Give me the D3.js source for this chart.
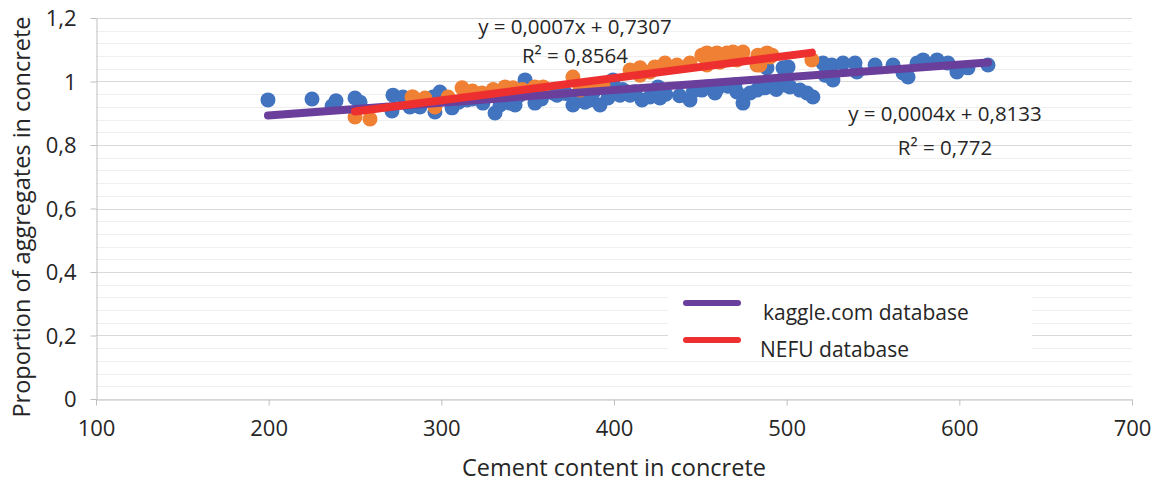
<!DOCTYPE html>
<html>
<head>
<meta charset="utf-8">
<script src="https://cdn.jsdelivr.net/npm/d3@7"></script>
<style>
  body { margin: 0; background: #ffffff; }
  text { font-family: "Open Sans", "Noto Sans", sans-serif; fill: #262626; }
</style>
</head>
<body>
<svg id="chart" width="1158" height="483"></svg>
<script>
// kaggle.com database: cement content vs. aggregate proportion
const kaggleCement = [
  199.6, 225.1, 236.7, 239.0, 250.0, 252.9, 272.0, 271.4, 279.5, 281.8,
  277.8, 287.6, 295.2, 299.2, 296.3, 306.2, 310.0, 314.9, 318.0, 320.7,
  324.1, 329.9, 331.1, 334.0, 339.8, 342.7, 345.0, 348.5, 352.5, 354.2,
  358.0, 364.7, 367.0, 372.0, 376.2, 380.0, 383.2, 386.1, 388.0, 391.9,
  396.5, 399.4, 403.5, 405.0, 409.3, 412.0, 416.2, 420.8, 425.5, 426.6,
  430.0, 438.0, 444.0, 446.0, 450.9, 453.8, 458.5, 460.0, 466.0, 470.0,
  471.2, 474.7, 478.8, 482.8, 485.0, 487.4, 488.6, 491.5, 494.0, 497.9,
  499.0, 500.8, 501.9, 507.7, 511.8, 515.2, 521.0, 522.2, 526.2, 526.8,
  532.6, 539.6, 540.7, 551.2, 561.6, 567.4, 570.3, 575.5, 579.0, 587.1,
  593.4, 598.6, 605.0, 616.6
];
const kaggleAggregate = [
  0.942, 0.945, 0.923, 0.939, 0.948, 0.935, 0.957, 0.907, 0.939, 0.920,
  0.951, 0.920, 0.951, 0.967, 0.904, 0.917, 0.935, 0.942, 0.945, 0.951,
  0.932, 0.964, 0.901, 0.926, 0.932, 0.926, 0.955, 1.005, 0.964, 0.932,
  0.945, 0.964, 0.957, 0.962, 0.926, 0.950, 0.935, 0.942, 0.965, 0.926,
  0.948, 1.005, 0.957, 0.975, 0.957, 0.968, 0.942, 0.951, 0.983, 0.948,
  0.960, 0.955, 0.942, 0.970, 0.973, 0.983, 0.964, 0.978, 0.985, 0.990,
  0.967, 0.932, 0.964, 0.973, 0.990, 0.980, 1.043, 0.995, 0.975, 1.043,
  0.989, 1.046, 0.983, 0.973, 0.964, 0.951, 1.058, 1.020, 1.052, 1.005,
  1.058, 1.058, 1.030, 1.052, 1.052, 1.027, 1.014, 1.058, 1.068, 1.068,
  1.058, 1.030, 1.043, 1.052
];

// NEFU database
const nefuCement = [
  250.0, 258.7, 283.0, 283.6, 290.5, 296.3, 303.9, 312.0, 318.0, 323.5,
  330.0, 336.9, 341.5, 347.0, 354.2, 358.9, 376.2, 380.3, 386.1, 393.6,
  409.3, 415.1, 415.1, 420.8, 423.7, 429.5, 436.5, 444.0, 450.9, 453.8,
  453.8, 455.6, 459.6, 461.4, 465.4, 468.9, 471.2, 474.7, 482.8, 483.4,
  484.5, 488.6, 490.3, 491.5, 514.6
];
const nefuAggregate = [
  0.888, 0.882, 0.951, 0.951, 0.948, 0.920, 0.951, 0.980, 0.970, 0.964,
  0.975, 0.983, 0.980, 0.975, 0.983, 0.983, 1.014, 0.973, 0.983, 0.989,
  1.036, 1.043, 1.020, 1.030, 1.046, 1.058, 1.052, 1.058, 1.083, 1.090,
  1.052, 1.083, 1.090, 1.061, 1.090, 1.093, 1.068, 1.093, 1.052, 1.083,
  1.052, 1.090, 1.077, 1.083, 1.068
];

// Linear trendlines (slope, intercept, R²)
const kaggleTrend = [0.0004, 0.8133, 0.772];
const nefuTrend = [0.0007, 0.7307, 0.8564];

const seriesNames = ["kaggle.com database", "NEFU database"];
const xTicks = [100, 200, 300, 400, 500, 600, 700];
const yTicks = [0, 0.2, 0.4, 0.6, 0.8, 1, 1.2];
const yTickLabels = ["0", "0,2", "0,4", "0,6", "0,8", "1", "1,2"];
const yMinorTicks = d3.range(0, 1.2001, 0.04);

const svg = d3.select("#chart");
const plotLeft = 96, plotRight = 1132, plotTop = 18, plotBottom = 399;

const x = d3.scaleLinear().domain([100, 700]).range([plotLeft, plotRight]);
const y = d3.scaleLinear().domain([0, 1.2]).range([plotBottom, plotTop]);

// gridlines: light minor lines every 0.04, darker majors every 0.2
svg.append("g").selectAll("line").data(yMinorTicks).join("line")
  .attr("x1", plotLeft).attr("x2", plotRight)
  .attr("y1", d => Math.round(y(d)) + 0.5).attr("y2", d => Math.round(y(d)) + 0.5)
  .attr("stroke", "#efefef").attr("stroke-width", 1);
svg.append("g").selectAll("line").data(yTicks.slice(1)).join("line")
  .attr("x1", plotLeft).attr("x2", plotRight)
  .attr("y1", d => Math.round(y(d)) + 0.5).attr("y2", d => Math.round(y(d)) + 0.5)
  .attr("stroke", "#d9d9d9").attr("stroke-width", 1);

// axes
const xAxis = svg.append("g").attr("transform", `translate(0,${plotBottom + 0.5})`)
  .call(d3.axisBottom(x).tickValues(xTicks).tickSize(6).tickSizeOuter(0).tickPadding(15));
const yAxis = svg.append("g").attr("transform", `translate(${plotLeft + 0.5},0)`)
  .call(d3.axisLeft(y).tickValues(yTicks).tickFormat((d, i) => yTickLabels[i])
    .tickSize(6).tickSizeOuter(0).tickPadding(14));
[xAxis, yAxis].forEach(a => {
  a.select(".domain").attr("stroke", "#bfbfbf");
  a.selectAll(".tick line").attr("stroke", "#bfbfbf");
  a.selectAll(".tick text").attr("font-size", 22).attr("fill", "#262626")
    .style("font-family", "'Open Sans', sans-serif");
});
yAxis.selectAll(".tick text").attr("dy", "0.35em");

// scatter points
const kaggleData = kaggleCement.map((c, i) => [c, kaggleAggregate[i]]);
const nefuData = nefuCement.map((c, i) => [c, nefuAggregate[i]]);

svg.append("g").selectAll("circle").data(kaggleData).join("circle")
  .attr("cx", d => x(d[0])).attr("cy", d => y(d[1])).attr("r", 7.5)
  .attr("fill", "#4173bf");
svg.append("g").selectAll("circle").data(nefuData).join("circle")
  .attr("cx", d => x(d[0])).attr("cy", d => y(d[1])).attr("r", 7.5)
  .attr("fill", "#ef8034");

// trendlines over each series' cement range
function trend(data, coef, color) {
  const ext = d3.extent(data, d => d[0]);
  const pts = ext.map(c => [c, coef[0] * c + coef[1]]);
  svg.append("line")
    .attr("x1", x(pts[0][0])).attr("y1", y(pts[0][1]))
    .attr("x2", x(pts[1][0])).attr("y2", y(pts[1][1]))
    .attr("stroke", color).attr("stroke-width", 8).attr("stroke-linecap", "round");
}
const purple = "#6a3f9c", red = "#ee2f2f";
trend(kaggleData, kaggleTrend, purple);
trend(nefuData, nefuTrend, red);

// trendline equations
const fmt = v => String(v).replace(".", ",");
function eqLabel(cx, y1, y2, coef) {
  const g = svg.append("g").attr("font-size", 20.5);
  g.append("text").attr("x", cx).attr("y", y1).attr("text-anchor", "middle")
    .text(`y = ${fmt(coef[0])}x + ${fmt(coef[1])}`);
  g.append("text").attr("x", cx).attr("y", y2).attr("text-anchor", "middle")
    .text(`R² = ${fmt(coef[2])}`);
}
eqLabel(575, 34, 63, nefuTrend);
eqLabel(945, 121, 155, kaggleTrend);

// legend
const lg = svg.append("g");
lg.append("rect").attr("x", 668).attr("y", 289).attr("width", 364).attr("height", 70)
  .attr("fill", "#ffffff");
const legendColors = [purple, red];
const legendTextX = [763, 760];
seriesNames.forEach((name, i) => {
  const ly = 303 + i * 37;
  lg.append("line").attr("x1", 686).attr("x2", 738).attr("y1", ly).attr("y2", ly)
    .attr("stroke", legendColors[i]).attr("stroke-width", 6).attr("stroke-linecap", "round");
  lg.append("text").attr("x", legendTextX[i]).attr("y", ly + 17)
    .attr("font-size", 21).text(name);
});

// axis titles
svg.append("text").attr("x", (plotLeft + plotRight) / 2).attr("y", 476)
  .attr("text-anchor", "middle").attr("font-size", 23.5).text("Cement content in concrete");
svg.append("text").attr("transform", "translate(30,217) rotate(-90)")
  .attr("text-anchor", "middle").attr("font-size", 23.5).text("Proportion of aggregates in concrete");
</script>
</body>
</html>
